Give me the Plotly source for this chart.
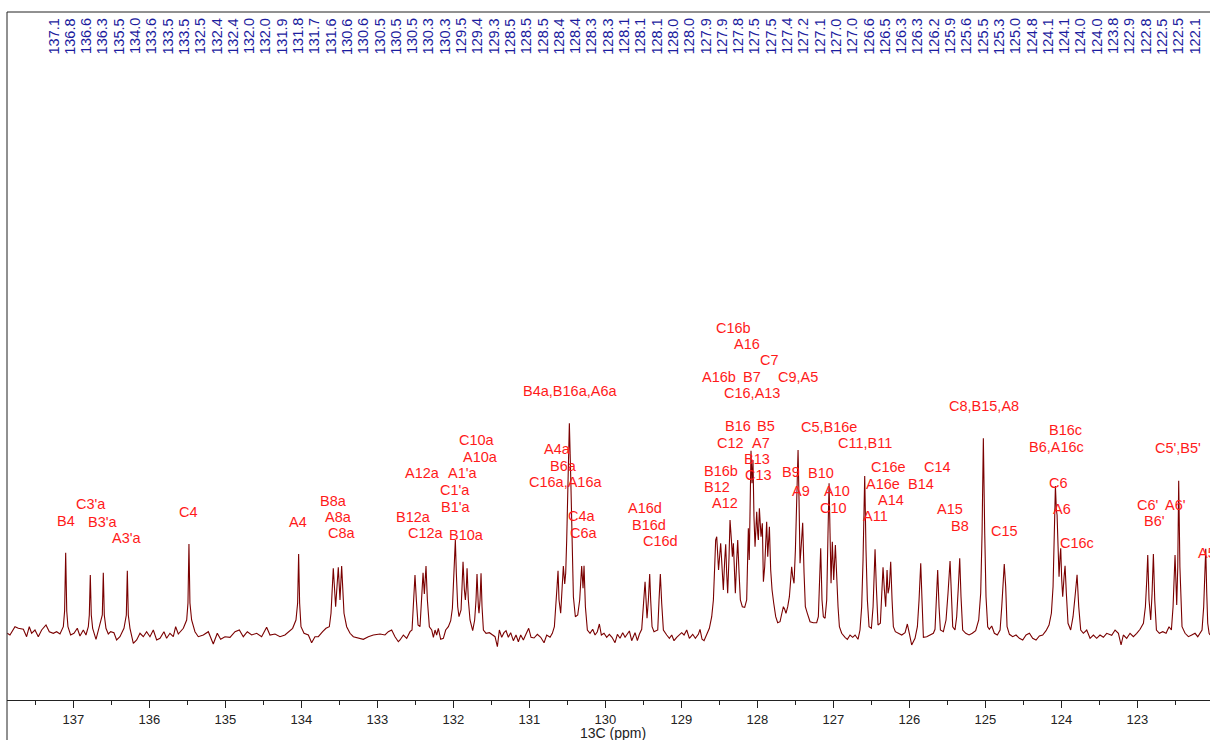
import plotly.graph_objects as go

# 13C NMR trace, (shift in ppm, intensity in arbitrary units), high to low field
trace_137_133 = [
    (137.868, -0.3), (137.833, -2.0), (137.767, 6.3), (137.723, 4.7), (137.657, 3.7),
    (137.614, -3.7), (137.579, 6.3), (137.548, -0.3), (137.504, 3.0), (137.460, -3.7),
    (137.416, 3.0), (137.359, 8.0), (137.315, 1.3), (137.263, -0.3), (137.219, 1.3),
    (137.175, -1.0), (137.131, 6.3), (137.114, 22.0), (137.100, 80.3), (137.086, 22.0),
    (137.070, 6.3), (137.035, -2.0), (136.991, -0.3), (136.947, 4.7), (136.912, -3.0),
    (136.868, 3.0), (136.833, -2.0), (136.802, 6.3), (136.789, 18.0), (136.776, 58.0),
    (136.763, 18.0), (136.745, 4.7), (136.701, -6.3), (136.658, 6.3), (136.618, 18.0),
    (136.605, 60.3), (136.592, 18.0), (136.570, 4.7), (136.539, -1.0), (136.508, 1.3),
    (136.465, 0.3), (136.430, -7.0), (136.386, -3.7), (136.333, 4.7), (136.302, 18.0),
    (136.289, 62.3), (136.276, 18.0), (136.254, 4.7), (136.210, -10.3), (136.166, -7.0),
    (136.122, -0.3), (136.079, -3.7), (136.035, 1.3), (135.991, -3.7), (135.947, 3.0),
    (135.903, -7.0), (135.859, -5.3), (135.807, 1.3), (135.772, -5.3), (135.728, -0.3),
    (135.684, -3.7), (135.653, 6.3), (135.618, -1.0), (135.552, 4.7), (135.508, 13.0),
    (135.491, 30.0), (135.478, 89.0), (135.465, 30.0), (135.443, 13.0), (135.399, 1.3),
    (135.355, -3.7), (135.289, -2.0), (135.223, 1.3), (135.158, -11.0), (135.105, -0.3),
    (135.061, -6.3), (135.004, -3.7), (134.938, -4.3), (134.872, 1.3), (134.815, 3.0),
    (134.763, -3.7), (134.710, 1.3), (134.653, -2.0), (134.587, -0.3), (134.522, -3.7),
    (134.456, 5.7), (134.412, -2.0), (134.346, -1.0), (134.280, -3.7), (134.215, -2.0),
    (134.158, 1.3), (134.114, 4.7), (134.070, 13.0), (134.048, 30.0), (134.035, 79.0),
    (134.022, 30.0), (134.004, 6.3), (133.964, -0.3), (133.907, -2.0), (133.864, -9.7),
    (133.820, -3.7), (133.776, -3.7), (133.719, 1.3), (133.675, 4.7), (133.631, 6.3),
    (133.609, 19.7), (133.579, 64.7), (133.548, 26.3), (133.513, 65.7), (133.491, 33.0),
    (133.469, 67.0), (133.438, 19.7), (133.403, 6.3), (133.359, -0.3), (133.315, -3.7),
    (133.250, -5.3), (133.184, -6.3), (133.118, -3.7), (133.052, -2.0), (132.964, -1.0),
    (132.899, -2.0), (132.855, 1.3), (132.811, 3.0), (132.767, -3.7), (132.723, -8.7),
]

trace_133_127 = [
    (132.701, -7.0), (132.657, -2.0), (132.613, -5.3), (132.569, 1.3), (132.543, 3.0),
    (132.526, 26.3), (132.504, 58.0), (132.486, 33.0), (132.464, 8.0), (132.438, 6.3),
    (132.416, 33.0), (132.398, 60.3), (132.381, 39.0), (132.359, 67.0), (132.341, 33.0),
    (132.315, 6.3), (132.284, 3.0), (132.262, -4.3), (132.240, 3.0), (132.219, -2.0),
    (132.197, 4.7), (132.166, -6.3), (132.131, -5.3), (132.100, 3.0), (132.065, 6.3),
    (132.034, 12.3), (132.012, 24.7), (131.999, 46.3), (131.986, 66.3), (131.973, 93.0),
    (131.960, 59.7), (131.942, 26.3), (131.925, 16.3), (131.898, 23.0), (131.885, 46.3),
    (131.872, 71.3), (131.854, 43.0), (131.841, 33.0), (131.828, 46.3), (131.819, 64.7),
    (131.802, 33.0), (131.780, 13.0), (131.745, 2.3), (131.719, 13.0), (131.701, 33.0),
    (131.688, 59.0), (131.670, 26.3), (131.662, 19.7), (131.648, 33.0), (131.635, 59.7),
    (131.622, 26.3), (131.604, 3.0), (131.569, -0.3), (131.525, 0.3), (131.482, -2.0),
    (131.451, -3.7), (131.420, -13.7), (131.394, 3.0), (131.363, -4.3), (131.333, 0.3),
    (131.306, 2.3), (131.276, -4.3), (131.245, 0.3), (131.210, -7.7), (131.175, -2.0),
    (131.144, -8.7), (131.113, -2.0), (131.078, -7.0), (131.043, -1.0), (131.008, 4.7),
    (130.977, -4.3), (130.938, -5.0), (130.894, -1.3), (130.850, -4.3), (130.806, -9.7),
    (130.771, -2.0), (130.727, -4.3), (130.697, -0.3), (130.670, 6.3), (130.648, 26.3),
    (130.635, 46.3), (130.622, 62.3), (130.609, 33.0), (130.587, 19.7), (130.569, 43.0),
    (130.552, 67.0), (130.534, 49.0), (130.521, 60.0), (130.508, 93.0), (130.490, 149.7),
    (130.473, 209.7), (130.455, 156.3), (130.438, 76.3), (130.420, 36.3), (130.394, 16.3),
    (130.363, 18.0), (130.337, 33.0), (130.311, 67.0), (130.293, 44.7), (130.280, 67.3),
    (130.262, 26.3), (130.236, 3.0), (130.201, -0.3), (130.166, 3.7), (130.135, -2.0),
    (130.105, 1.3), (130.078, 9.0), (130.052, -2.0), (130.017, -0.3), (129.982, -4.3),
    (129.947, -1.3), (129.912, -4.3), (129.872, -9.7), (129.841, -1.3), (129.806, -5.3),
    (129.771, 0.3), (129.740, -4.3), (129.683, 2.0), (129.653, -7.7), (129.609, 0.3),
    (129.578, -7.7), (129.552, -1.3), (129.521, 3.7), (129.504, 19.7), (129.490, 39.7),
    (129.477, 51.3), (129.464, 33.0), (129.451, 14.7), (129.433, 33.0), (129.416, 59.0),
    (129.403, 33.0), (129.385, 6.3), (129.359, 1.3), (129.332, 2.3), (129.310, 3.0),
    (129.293, 33.0), (129.276, 59.0), (129.258, 29.7), (129.236, 3.0), (129.192, -2.0),
    (129.157, -5.3), (129.126, -2.0), (129.096, -7.7), (129.061, -4.3), (129.026, -1.3),
    (128.995, 0.3), (128.964, -2.0), (128.929, 3.0), (128.894, -5.3), (128.850, -1.3),
    (128.815, -5.3), (128.776, -1.3), (128.754, 3.7), (128.727, -6.3), (128.701, -7.7),
    (128.666, -2.0), (128.631, 4.7), (128.600, 16.3), (128.578, 33.0), (128.561, 66.3),
    (128.548, 93.0), (128.534, 96.3), (128.510, 63.0), (128.482, 89.7), (128.464, 59.7),
    (128.447, 43.0), (128.429, 73.0), (128.416, 88.7), (128.403, 59.7), (128.390, 39.7),
    (128.372, 76.3), (128.359, 113.0), (128.341, 93.0), (128.328, 76.3), (128.315, 89.7),
    (128.302, 59.7), (128.289, 39.7), (128.271, 73.0), (128.258, 93.0), (128.240, 59.7),
    (128.223, 33.0), (128.197, 26.3), (128.166, 25.7), (128.140, 33.0), (128.127, 76.3),
    (128.118, 104.7), (128.106, 73.0), (128.092, 129.7), (128.083, 182.3), (128.070, 149.7),
    (128.057, 173.0), (128.044, 116.3), (128.030, 86.3), (128.017, 106.3), (128.008, 121.3),
    (127.995, 99.7), (127.986, 93.0), (127.973, 124.7), (127.960, 109.7), (127.951, 96.3),
    (127.934, 109.7), (127.920, 51.3), (127.903, 66.3), (127.890, 93.0), (127.877, 111.3),
    (127.863, 76.3), (127.852, 93.0), (127.841, 106.3), (127.824, 63.0), (127.806, 43.0),
    (127.784, 29.7), (127.758, 16.3), (127.732, 10.3), (127.701, 11.3), (127.679, 19.0),
    (127.657, 26.3), (127.640, 23.7), (127.623, 19.7), (127.600, 26.3), (127.578, 36.3),
    (127.561, 53.0), (127.548, 66.3), (127.534, 56.3), (127.517, 49.7), (127.499, 83.0),
    (127.482, 133.0), (127.464, 183.0), (127.451, 133.0),
]

trace_127_122 = [
    (127.438, 69.7), (127.420, 89.7), (127.403, 110.3), (127.385, 59.7), (127.368, 26.3),
    (127.342, 19.7), (127.306, 11.3), (127.263, 10.3), (127.219, 10.3), (127.197, 16.3),
    (127.184, 53.0), (127.166, 84.7), (127.149, 33.0), (127.131, 16.3), (127.109, 14.7),
    (127.087, 33.0), (127.070, 99.7), (127.056, 149.7), (127.043, 99.7), (127.030, 49.7),
    (127.013, 91.3), (126.995, 53.0), (126.973, 88.0), (126.956, 49.7), (126.938, 26.3),
    (126.920, 6.3), (126.890, -0.3), (126.846, -4.3), (126.815, -6.3), (126.780, -2.0),
    (126.745, -4.3), (126.714, -2.0), (126.675, -6.3), (126.649, 3.0), (126.627, 26.3),
    (126.609, 73.0), (126.587, 157.0), (126.570, 83.0), (126.552, 33.0), (126.530, 6.3),
    (126.499, 4.7), (126.477, 26.3), (126.451, 83.7), (126.434, 46.3), (126.412, 8.0),
    (126.381, 9.7), (126.363, 36.3), (126.346, 65.7), (126.328, 43.0), (126.311, 26.3),
    (126.293, 63.0), (126.280, 39.7), (126.263, 46.3), (126.245, 71.3), (126.227, 33.0),
    (126.210, 6.3), (126.184, 1.3), (126.144, -0.3), (126.100, -2.0), (126.056, 0.3),
    (126.026, 9.0), (126.000, -0.3), (125.969, -12.0), (125.925, -5.3), (125.894, 6.3),
    (125.872, 33.0), (125.850, 69.7), (125.833, 33.0), (125.815, -4.3), (125.771, -3.7),
    (125.727, -2.0), (125.684, -0.3), (125.662, 3.7), (125.644, 33.0), (125.627, 63.0),
    (125.609, 26.3), (125.591, 3.0), (125.552, 1.3), (125.517, 13.0), (125.491, 39.7),
    (125.464, 72.0), (125.447, 39.7), (125.429, 6.3), (125.399, 3.0), (125.377, 16.3),
    (125.355, 46.3), (125.337, 74.7), (125.320, 36.3), (125.298, 3.0), (125.258, -0.3),
    (125.214, -2.0), (125.171, -0.3), (125.127, 2.3), (125.087, 13.0), (125.061, 39.7),
    (125.043, 99.7), (125.026, 194.7), (125.008, 99.7), (124.991, 36.3), (124.969, 6.3),
    (124.947, 3.7), (124.916, 7.0), (124.881, -0.3), (124.842, -2.0), (124.806, 3.0),
    (124.784, 26.3), (124.767, 46.3), (124.751, 69.0), (124.732, 46.3), (124.714, 6.3),
    (124.683, -1.3), (124.640, -3.7), (124.596, -2.0), (124.552, -5.3), (124.508, -7.0),
    (124.464, -2.0), (124.420, -0.3), (124.377, -5.3), (124.333, -7.0), (124.289, -3.0),
    (124.245, -2.0), (124.201, 2.3), (124.162, 8.0), (124.131, 19.7), (124.109, 46.3),
    (124.096, 99.7), (124.078, 147.0), (124.065, 123.0), (124.056, 118.0), (124.043, 86.3),
    (124.030, 56.3), (124.017, 76.3), (124.008, 84.7), (123.995, 53.0), (123.982, 36.3),
    (123.964, 56.3), (123.951, 67.3), (123.934, 39.7), (123.912, 9.7), (123.877, 3.0),
    (123.846, 16.3), (123.820, 36.3), (123.793, 58.3), (123.771, 26.3), (123.745, 3.0),
    (123.710, -0.3), (123.666, 3.0), (123.622, -5.3), (123.578, -2.0), (123.535, -5.3),
    (123.491, -2.0), (123.447, -4.3), (123.403, -0.3), (123.337, -2.3), (123.293, 3.0),
    (123.249, -0.3), (123.214, -12.0), (123.184, -2.0), (123.140, -5.3), (123.096, -0.3),
    (123.052, -3.7), (123.008, -0.3), (122.964, 3.7), (122.920, 9.7), (122.894, 26.3),
    (122.876, 53.0), (122.863, 78.0), (122.846, 33.0), (122.824, 13.0), (122.806, 39.7),
    (122.789, 79.0), (122.771, 33.0), (122.749, 3.0), (122.710, -0.3), (122.666, 1.3),
    (122.622, -0.3), (122.583, 6.3), (122.552, 3.0), (122.530, 26.3), (122.504, 78.0),
    (122.482, 28.0), (122.468, 66.3), (122.456, 152.3), (122.440, 66.3), (122.412, 6.3),
    (122.372, -0.3), (122.328, -3.7), (122.284, -2.0), (122.241, -0.3), (122.205, -3.7),
    (122.175, -0.3), (122.149, 3.0), (122.127, 26.3), (122.114, 53.0), (122.100, 84.3),
    (122.087, 40.3), (122.074, 9.7), (122.056, -0.3), (122.043, -2.0),
]

# Picked peak list, printed along the top edge
peak_list = [
    137.1, 136.8, 136.6, 136.3, 135.5, 134.0, 133.6, 133.5, 133.5, 132.5,
    132.4, 132.4, 132.0, 132.0, 131.9, 131.8, 131.7, 131.6, 130.6, 130.6,
    130.5, 130.5, 130.5, 130.3, 130.3, 129.5, 129.4, 129.3, 128.5, 128.5,
    128.5, 128.4, 128.4, 128.3, 128.3, 128.1, 128.1, 128.1, 128.0, 128.0,
    127.9, 127.9, 127.8, 127.5, 127.5, 127.4, 127.2, 127.1, 127.0, 127.0,
    126.6, 126.5, 126.3, 126.3, 126.2, 125.9, 125.6, 125.5, 125.3, 125.0,
    124.8, 124.1, 124.1, 124.0, 124.0, 123.8, 122.9, 122.8, 122.5, 122.5,
    122.1,
]

# Carbon assignments: text, shift (ppm) and height where each is written
assign_text = [
    "B4", "C3'a", "B3'a", "A3'a", "C4", "A4", "B8a", "A8a", "C8a",
    "B12a", "A12a", "C12a", "C1'a", "B1'a", "A1'a", "B10a", "C10a", "A10a",
    "A4a", "B6a", "C16a,A16a", "B4a,B16a,A6a", "C4a", "C6a",
    "A16d", "B16d", "C16d",
    "A12", "B12", "B16b", "C12", "B16", "B13", "C13", "A7", "B5",
    "C16,A13", "A16b", "B7", "C9,A5", "C7", "A16", "C16b",
    "B9", "A9", "B10", "A10", "C10", "C5,B16e", "C11,B11",
    "C16e", "A16e", "A14", "A11", "C14", "B14", "A15", "B8",
    "C8,B15,A8", "C15", "B16c", "B6,A16c", "C6", "A6", "C16c",
    "C6'", "B6'", "A6'", "C5',B5'", "A5'",
]
assign_ppm = [
    137.100, 136.771, 136.605, 136.289, 135.478, 134.040, 133.579, 133.513, 133.469,
    132.521, 132.403, 132.359, 131.978, 131.969, 131.876, 131.824, 131.692, 131.639,
    130.626, 130.553, 130.521, 130.464, 130.310, 130.280,
    129.478, 129.425, 129.280,
    128.425, 128.534, 128.477, 128.350, 128.254, 128.008, 127.987, 127.951, 127.881,
    128.074, 128.500, 128.066, 127.468, 127.842, 128.132, 128.316,
    127.557, 127.425, 127.166, 126.955, 127.000, 127.053, 126.583,
    126.276, 126.342, 126.245, 126.451, 125.626, 125.850, 125.464, 125.333,
    125.017, 124.750, 123.951, 124.070, 124.039, 123.995, 123.790,
    122.855, 122.780, 122.504, 122.460, 122.070,
]
assign_height = [
    112.3, 128.7, 111.3, 94.7, 121.3, 111.3, 132.3, 115.7, 99.7,
    116.3, 159.7, 99.7, 143.0, 126.3, 159.7, 98.0, 193.0, 175.7,
    183.7, 167.0, 151.3, 242.0, 117.0, 99.7,
    124.7, 108.0, 92.0,
    129.7, 145.7, 162.0, 190.3, 207.0, 173.7, 158.0, 190.3, 207.0,
    240.3, 255.7, 255.7, 255.7, 273.0, 289.0, 304.7,
    161.3, 142.3, 160.3, 142.3, 125.3, 206.3, 189.7,
    165.7, 149.0, 133.0, 117.0, 165.7, 149.0, 124.0, 107.0,
    227.0, 102.0, 203.0, 186.3, 149.7, 124.0, 89.7,
    128.0, 112.3, 128.0, 185.3, 80.3,
]

major_ticks = list(range(123, 138))

shift_ppm = [p for seg in (trace_137_133, trace_133_127, trace_127_122) for p, _ in seg]
intensity = [v for seg in (trace_137_133, trace_133_127, trace_127_122) for _, v in seg]

FONT = "Arial, 'Liberation Sans', sans-serif"
W, H = 1210, 740
ML, MR, MT, MB = 7, 0, 12, 40
plot_w = W - ML - MR
plot_h = H - MT - MB

fig = go.Figure()
fig.add_trace(go.Scatter(
    x=shift_ppm, y=intensity, mode="lines",
    line=dict(color="#7a0000", width=1.1),
    hoverinfo="skip", showlegend=False,
))

annotations = []
for txt, ppm, h in zip(assign_text, assign_ppm, assign_height):
    annotations.append(dict(
        x=ppm, y=h, xref="x", yref="y", text=txt, showarrow=False,
        xanchor="center", yanchor="middle",
        font=dict(family=FONT, size=14.5, color="#ff1a1a"),
    ))

# peak list labels spread evenly across the top strip
first_px, last_px = 53.0, 1194.0
n = len(peak_list)
for i, v in enumerate(peak_list):
    px = first_px + (last_px - first_px) * i / (n - 1)
    annotations.append(dict(
        x=(px - ML) / plot_w, y=(H - MB - 36.5) / plot_h, xref="paper", yref="paper",
        text=f"{v:.1f}", textangle=-90, showarrow=False,
        xanchor="center", yanchor="middle",
        font=dict(family=FONT, size=14.5, color="#1c1c9e"),
    ))

annotations.append(dict(
    x=(613 - ML) / plot_w, y=-33 / plot_h, xref="paper", yref="paper",
    text="13C (ppm)", showarrow=False, xanchor="center", yanchor="middle",
    font=dict(family=FONT, size=14, color="#222222"),
))

fig.update_layout(
    width=W, height=H,
    margin=dict(l=ML, r=MR, t=MT, b=MB, pad=0),
    paper_bgcolor="white", plot_bgcolor="white",
    annotations=annotations,
    shapes=[
        dict(type="line", xref="paper", yref="paper", x0=0, x1=1, y0=1, y1=1,
             line=dict(color="#222222", width=1)),
        dict(type="line", xref="paper", yref="paper", x0=0, x1=0, y0=-40 / plot_h, y1=1,
             line=dict(color="#222222", width=1)),
    ],
    xaxis=dict(
        range=[137.872, 122.044], showgrid=False, zeroline=False,
        showline=True, linecolor="#222222", linewidth=1,
        ticks="outside", ticklen=7, tickcolor="#222222", tickwidth=1,
        tickvals=major_ticks, ticktext=[str(t) for t in major_ticks],
        tickfont=dict(family=FONT, size=13, color="#222222"),
        minor=dict(dtick=0.5, tick0=0, ticks="outside", ticklen=4,
                   tickcolor="#222222", tickwidth=1),
    ),
    yaxis=dict(range=[-67, 621], visible=False, showgrid=False, zeroline=False),
)

fig.write_html("out.html")
